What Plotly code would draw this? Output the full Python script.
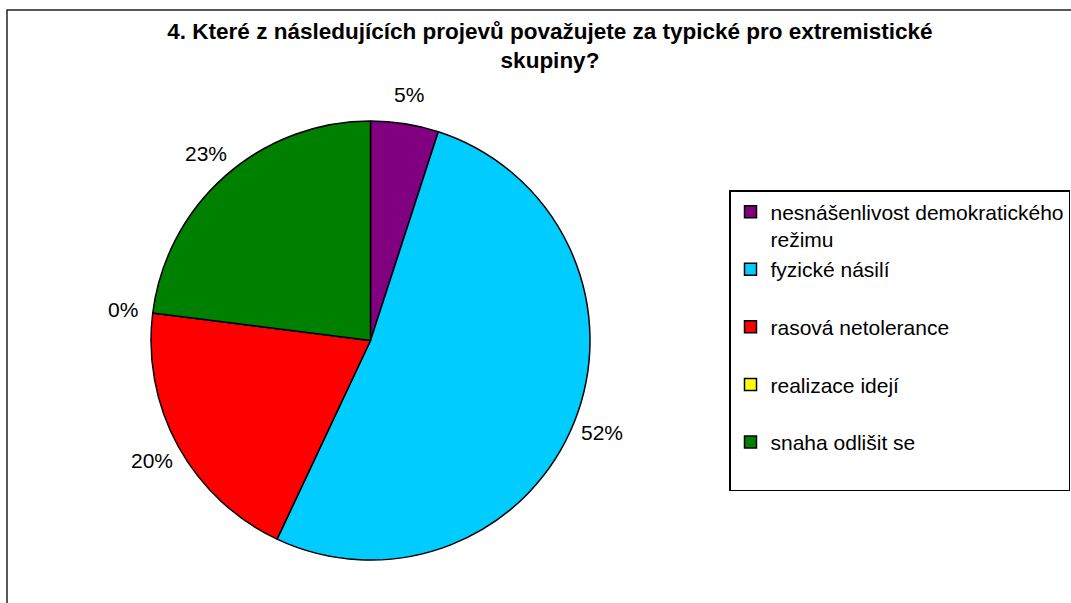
import math
import plotly.graph_objects as go

W, H = 1071, 603

labels = ["nesnášenlivost demokratického<br>režimu", "fyzické násilí<br> ", "rasová netolerance<br> ",
          "realizace idejí<br> ", "snaha odlišit se<br> "]
values = [5, 52, 20, 0, 23]
colors = ["#800080", "#00CCFF", "#FF0000", "#FFFF00", "#008000"]
title = "4. Které z následujících projevů považujete za typické pro extremistické<br>skupiny?"

# pie box in pixels
px0, px1, py0, py1 = 151, 590, 121, 560

fig = go.Figure()
fig.add_trace(go.Pie(
    labels=labels, values=values, sort=False, direction='clockwise', rotation=0,
    marker=dict(colors=colors, line=dict(color='black', width=1.5)),
    textinfo='none', hoverinfo='label+percent',
    domain=dict(x=[px0 / W, px1 / W], y=[1 - py1 / H, 1 - py0 / H]),
))

# percentage labels outside the pie
cx, cy = (px0 + px1) / 2, (py0 + py1) / 2
rl = 249
total = sum(values)
cum = 0
annotations = []
for v in values:
    mid = (cum + v / 2) / total * 2 * math.pi
    cum += v
    lx = cx + rl * math.sin(mid)
    ly = cy - rl * math.cos(mid)
    annotations.append(dict(x=lx / W, y=1 - ly / H, xref='paper', yref='paper',
                            text=f"{round(v / total * 100)}%", showarrow=False,
                            xanchor='center', yanchor='middle',
                            font=dict(size=21, color='black')))

fig.update_layout(
    width=W, height=H,
    margin=dict(l=0, r=0, t=0, b=0),
    paper_bgcolor='white',
    plot_bgcolor='white',
    font=dict(family='Liberation Sans, Arial', color='black'),
    title=dict(text="<b>" + title + "</b>", x=550 / W, xanchor='center',
               y=1 - 39 / H, yanchor='top', yref='container',
               font=dict(size=22.5, color='black')),
    legend=dict(
        x=729 / W, y=1 - 190 / H, xanchor='left', yanchor='top',
        bordercolor='black', borderwidth=1.5, bgcolor='white',
        font=dict(size=21, color='black'), valign='top',
        itemwidth=30,
    ),
    annotations=annotations,
    shapes=[dict(type='rect', xref='paper', yref='paper',
                 x0=7 / W, x1=1.02, y0=-0.05, y1=1 - 10 / H,
                 line=dict(color='#222222', width=1.5))],
)

fig.write_html("out.html", config={'displayModeBar': False},
               post_script="document.body.style.margin='0';")
